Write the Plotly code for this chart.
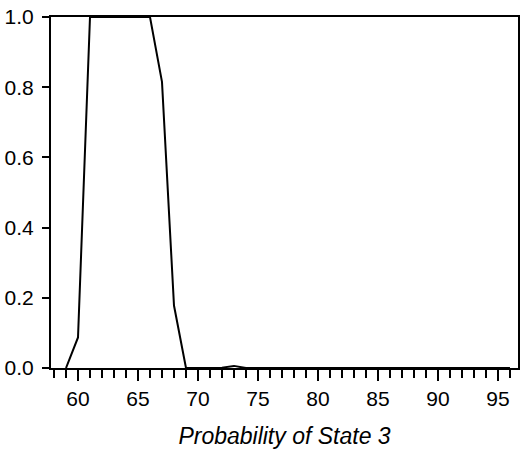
import plotly.graph_objects as go

x_vals = [59, 60, 61, 62, 63, 64, 65, 66, 67, 68, 69, 70, 71, 72, 73, 74, 75, 76, 77, 78,
          79, 80, 81, 82, 83, 84, 85, 86, 87, 88, 89, 90, 91, 92, 93, 94, 95, 96]
y_vals = [0.0, 0.087, 1.0, 1.0, 1.0, 1.0, 1.0, 1.0, 0.815, 0.178, 0.0, 0.0, 0.0, 0.001, 0.006, 0.0, 0.0, 0.0, 0.0, 0.0,
          0.0, 0.0, 0.0, 0.0, 0.0, 0.0, 0.0, 0.0, 0.0, 0.0, 0.0, 0.0, 0.0, 0.0, 0.0, 0.0, 0.0, 0.0]
x_title = "Probability of State 3"

fig = go.Figure()
fig.add_trace(go.Scatter(x=x_vals, y=y_vals, mode="lines",
                         line=dict(color="black", width=2), showlegend=False,
                         cliponaxis=False))

font = dict(family="Liberation Sans, Arial, sans-serif", size=21, color="black")
title_font = dict(family="Liberation Sans, Arial, sans-serif", size=23, color="black")
fig.update_layout(
    width=521, height=458,
    margin=dict(l=51, r=3, t=17, b=90),
    plot_bgcolor="white", paper_bgcolor="white",
    font=font,
    xaxis=dict(range=[57.75, 96.67], tickmode="linear", tick0=60, dtick=5,
               ticks="outside", ticklen=11, tickwidth=2, tickcolor="black",
               minor=dict(dtick=1, tick0=60, ticks="outside", ticklen=8, tickwidth=2, tickcolor="black"),
               showline=True, linewidth=2, linecolor="black", mirror=True,
               showgrid=False, zeroline=False, automargin=False,
               title=dict(text="<i>" + x_title + "</i>", font=title_font, standoff=19)),
    yaxis=dict(range=[0, 1.0], tickmode="linear", tick0=0, dtick=0.2, tickformat=".1f",
               ticks="outside", ticklen=7, tickwidth=2, tickcolor="black",
               ticklabelstandoff=4,
               showline=True, linewidth=2, linecolor="black", mirror=True,
               showgrid=False, zeroline=False, automargin=False),
)
fig.write_html("out.html", post_script="document.body.style.margin='0';",
               config={"displayModeBar": False})
